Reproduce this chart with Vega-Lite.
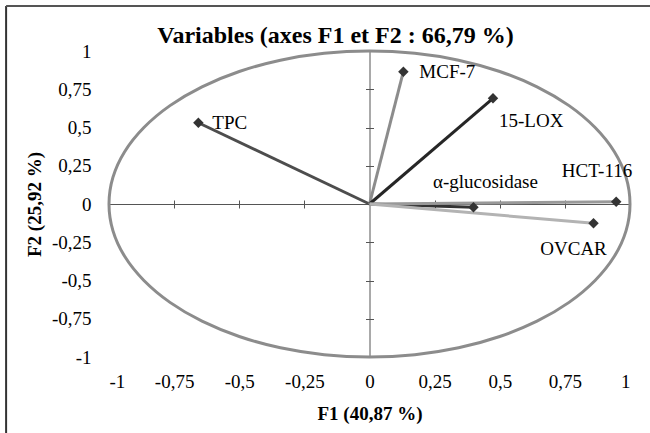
{
  "$schema": "https://vega.github.io/schema/vega-lite/v6.json",
  "width": 521,
  "height": 306,
  "autosize": "none",
  "padding": {"left": 109, "top": 51, "right": 20, "bottom": 76},
  "background": "white",
  "title": {
    "text": "Variables  (axes F1 et F2 : 66,79 %)",
    "font": "Liberation Serif",
    "fontSize": 24,
    "fontWeight": "bold",
    "color": "black",
    "anchor": "middle",
    "dx": -34,
    "dy": 49,
    "offset": 6
  },
  "config": {
    "view": {"stroke": null},
    "axis": {
      "grid": false,
      "labelFont": "Liberation Serif",
      "titleFont": "Liberation Serif",
      "labelColor": "black",
      "titleColor": "black",
      "labelFontSize": 19,
      "titleFontSize": 19,
      "titleFontWeight": "bold"
    },
    "text": {"font": "Liberation Serif", "fontSize": 19, "color": "black"}
  },
  "datasets": {
    "circle": [
      {"i": 0, "cx": 1, "cy": 0},
      {"i": 1, "cx": 0.985, "cy": 0.174},
      {"i": 2, "cx": 0.94, "cy": 0.342},
      {"i": 3, "cx": 0.866, "cy": 0.5},
      {"i": 4, "cx": 0.766, "cy": 0.643},
      {"i": 5, "cx": 0.643, "cy": 0.766},
      {"i": 6, "cx": 0.5, "cy": 0.866},
      {"i": 7, "cx": 0.342, "cy": 0.94},
      {"i": 8, "cx": 0.174, "cy": 0.985},
      {"i": 9, "cx": 0, "cy": 1},
      {"i": 10, "cx": -0.174, "cy": 0.985},
      {"i": 11, "cx": -0.342, "cy": 0.94},
      {"i": 12, "cx": -0.5, "cy": 0.866},
      {"i": 13, "cx": -0.643, "cy": 0.766},
      {"i": 14, "cx": -0.766, "cy": 0.643},
      {"i": 15, "cx": -0.866, "cy": 0.5},
      {"i": 16, "cx": -0.94, "cy": 0.342},
      {"i": 17, "cx": -0.985, "cy": 0.174},
      {"i": 18, "cx": -1, "cy": 0},
      {"i": 19, "cx": -0.985, "cy": -0.174},
      {"i": 20, "cx": -0.94, "cy": -0.342},
      {"i": 21, "cx": -0.866, "cy": -0.5},
      {"i": 22, "cx": -0.766, "cy": -0.643},
      {"i": 23, "cx": -0.643, "cy": -0.766},
      {"i": 24, "cx": -0.5, "cy": -0.866},
      {"i": 25, "cx": -0.342, "cy": -0.94},
      {"i": 26, "cx": -0.174, "cy": -0.985},
      {"i": 27, "cx": 0, "cy": -1},
      {"i": 28, "cx": 0.174, "cy": -0.985},
      {"i": 29, "cx": 0.342, "cy": -0.94},
      {"i": 30, "cx": 0.5, "cy": -0.866},
      {"i": 31, "cx": 0.643, "cy": -0.766},
      {"i": 32, "cx": 0.766, "cy": -0.643},
      {"i": 33, "cx": 0.866, "cy": -0.5},
      {"i": 34, "cx": 0.94, "cy": -0.342},
      {"i": 35, "cx": 0.985, "cy": -0.174}
    ],
    "vars": [
      {"name": "TPC", "F1": -0.657, "F2": 0.531},
      {"name": "MCF-7", "F1": 0.13, "F2": 0.865},
      {"name": "15-LOX", "F1": 0.474, "F2": 0.691},
      {"name": "α-glucosidase", "F1": 0.399, "F2": -0.022},
      {"name": "HCT-116", "F1": 0.947, "F2": 0.015},
      {"name": "OVCAR", "F1": 0.86, "F2": -0.126}
    ]
  },
  "resolve": {"axis": {"x": "independent", "y": "independent"}},
  "layer": [
    {
      "data": {"name": "circle"},
      "mark": {"type": "line", "color": "#8c8c8c", "strokeWidth": 3, "clip": false, "interpolate": "cardinal-closed"},
      "encoding": {
        "x": {
          "field": "cx", "type": "quantitative",
          "scale": {"domain": [-1, 1], "nice": false, "zero": false},
          "axis": {
            "orient": "bottom", "values": [-1, -0.75, -0.5, -0.25, 0, 0.25, 0.5, 0.75, 1],
            "labelExpr": "replace(toString(datum.value), '.', ',')",
            "ticks": false, "domain": false, "labelPadding": 15,
            "title": "F1 (40,87 %)", "titlePadding": 13
          }
        },
        "y": {
          "field": "cy", "type": "quantitative",
          "scale": {"domain": [-1, 1], "nice": false, "zero": false},
          "axis": {
            "orient": "left", "values": [-1, -0.75, -0.5, -0.25, 0, 0.25, 0.5, 0.75, 1],
            "labelExpr": "replace(toString(datum.value), '.', ',')",
            "ticks": false, "domain": false, "labelPadding": 18,
            "title": "F2 (25,92 %)", "titlePadding": 7
          }
        },
        "order": {"field": "i", "type": "quantitative"}
      }
    },
    {
      "data": {"values": [{"edge": "left"}]},
      "mark": {"type": "rule", "color": "#333333", "strokeWidth": 2, "clip": false},
      "encoding": {
        "x": {"datum": -1.395, "type": "quantitative", "scale": {"domain": [-1, 1], "nice": false, "zero": false}, "axis": null},
        "y": {"datum": 1.294, "type": "quantitative", "scale": {"domain": [-1, 1], "nice": false, "zero": false}, "axis": null},
        "y2": {"datum": -1.52}
      }
    },
    {
      "data": {"values": [{"edge": "top"}]},
      "mark": {"type": "rule", "color": "#555555", "strokeWidth": 2, "clip": false},
      "encoding": {
        "x": {"datum": -1.395, "type": "quantitative", "scale": {"domain": [-1, 1], "nice": false, "zero": false}, "axis": null},
        "x2": {"datum": 1.1},
        "y": {"datum": 1.294, "type": "quantitative", "scale": {"domain": [-1, 1], "nice": false, "zero": false}, "axis": null}
      }
    },
    {
      "data": {"name": "vars"},
      "mark": {"type": "rule", "strokeWidth": 3},
      "encoding": {
        "x": {
          "field": "F1", "type": "quantitative",
          "scale": {"domain": [-1, 1], "nice": false, "zero": false},
          "axis": {
            "orient": "bottom", "offset": -153, "labels": false, "title": null,
            "values": [-1, -0.75, -0.5, -0.25, 0.25, 0.5, 0.75, 1],
            "ticks": true, "tickSize": 4, "tickColor": "#555555", "tickWidth": 1,
            "domain": true, "domainColor": "#555555", "domainWidth": 1
          }
        },
        "y": {
          "field": "F2", "type": "quantitative",
          "scale": {"domain": [-1, 1], "nice": false, "zero": false},
          "axis": {
            "orient": "left", "offset": -260.5, "labels": false, "title": null,
            "values": [-1, -0.75, -0.5, -0.25, 0.25, 0.5, 0.75, 1],
            "ticks": true, "tickSize": 4, "tickColor": "#555555", "tickWidth": 1,
            "domain": true, "domainColor": "#555555", "domainWidth": 1
          }
        },
        "x2": {"datum": 0},
        "y2": {"datum": 0},
        "color": {
          "field": "name", "type": "nominal", "legend": null,
          "scale": {
            "domain": ["TPC", "MCF-7", "15-LOX", "α-glucosidase", "HCT-116", "OVCAR"],
            "range": ["#4d4d4d", "#8c8c8c", "#262626", "#333333", "#999999", "#b3b3b3"]
          }
        }
      }
    },
    {
      "data": {"name": "vars"},
      "mark": {"type": "point", "shape": "diamond", "filled": true, "size": 110, "color": "#333333", "opacity": 1},
      "encoding": {
        "x": {
          "field": "F1", "type": "quantitative",
          "scale": {"domain": [-1, 1], "nice": false, "zero": false},
          "axis": {
            "orient": "top", "offset": -153, "labels": false, "title": null,
            "values": [-1, -0.75, -0.5, -0.25, 0.25, 0.5, 0.75, 1],
            "ticks": true, "tickSize": 4, "tickColor": "#555555", "tickWidth": 1,
            "domain": false
          }
        },
        "y": {
          "field": "F2", "type": "quantitative",
          "scale": {"domain": [-1, 1], "nice": false, "zero": false},
          "axis": {
            "orient": "right", "offset": -260.5, "labels": false, "title": null,
            "values": [-1, -0.75, -0.5, -0.25, 0.25, 0.5, 0.75, 1],
            "ticks": true, "tickSize": 4, "tickColor": "#555555", "tickWidth": 1,
            "domain": false
          }
        }
      }
    },
    {
      "data": {"name": "vars"},
      "transform": [{"filter": "datum.name === 'TPC'"}],
      "mark": {"type": "text", "align": "left", "baseline": "alphabetic", "dx": 14, "dy": 6},
      "encoding": {
        "x": {"field": "F1", "type": "quantitative", "scale": {"domain": [-1, 1], "nice": false, "zero": false}, "axis": null},
        "y": {"field": "F2", "type": "quantitative", "scale": {"domain": [-1, 1], "nice": false, "zero": false}, "axis": null},
        "text": {"field": "name"}
      }
    },
    {
      "data": {"name": "vars"},
      "transform": [{"filter": "datum.name === 'MCF-7'"}],
      "mark": {"type": "text", "align": "left", "baseline": "alphabetic", "dx": 16, "dy": 6},
      "encoding": {
        "x": {"field": "F1", "type": "quantitative", "scale": {"domain": [-1, 1], "nice": false, "zero": false}, "axis": null},
        "y": {"field": "F2", "type": "quantitative", "scale": {"domain": [-1, 1], "nice": false, "zero": false}, "axis": null},
        "text": {"field": "name"}
      }
    },
    {
      "data": {"name": "vars"},
      "transform": [{"filter": "datum.name === '15-LOX'"}],
      "mark": {"type": "text", "align": "left", "baseline": "alphabetic", "dx": 6, "dy": 29},
      "encoding": {
        "x": {"field": "F1", "type": "quantitative", "scale": {"domain": [-1, 1], "nice": false, "zero": false}, "axis": null},
        "y": {"field": "F2", "type": "quantitative", "scale": {"domain": [-1, 1], "nice": false, "zero": false}, "axis": null},
        "text": {"field": "name"}
      }
    },
    {
      "data": {"name": "vars"},
      "transform": [{"filter": "datum.name === 'HCT-116'"}],
      "mark": {"type": "text", "align": "right", "baseline": "alphabetic", "dx": 16, "dy": -25},
      "encoding": {
        "x": {"field": "F1", "type": "quantitative", "scale": {"domain": [-1, 1], "nice": false, "zero": false}, "axis": null},
        "y": {"field": "F2", "type": "quantitative", "scale": {"domain": [-1, 1], "nice": false, "zero": false}, "axis": null},
        "text": {"field": "name"}
      }
    },
    {
      "data": {"name": "vars"},
      "transform": [{"filter": "datum.name === 'α-glucosidase'"}],
      "mark": {"type": "text", "align": "center", "baseline": "alphabetic", "dx": 12, "dy": -19},
      "encoding": {
        "x": {"field": "F1", "type": "quantitative", "scale": {"domain": [-1, 1], "nice": false, "zero": false}, "axis": null},
        "y": {"field": "F2", "type": "quantitative", "scale": {"domain": [-1, 1], "nice": false, "zero": false}, "axis": null},
        "text": {"field": "name"}
      }
    },
    {
      "data": {"name": "vars"},
      "transform": [{"filter": "datum.name === 'OVCAR'"}],
      "mark": {"type": "text", "align": "center", "baseline": "alphabetic", "dx": -20, "dy": 32},
      "encoding": {
        "x": {"field": "F1", "type": "quantitative", "scale": {"domain": [-1, 1], "nice": false, "zero": false}, "axis": null},
        "y": {"field": "F2", "type": "quantitative", "scale": {"domain": [-1, 1], "nice": false, "zero": false}, "axis": null},
        "text": {"field": "name"}
      }
    }
  ]
}
